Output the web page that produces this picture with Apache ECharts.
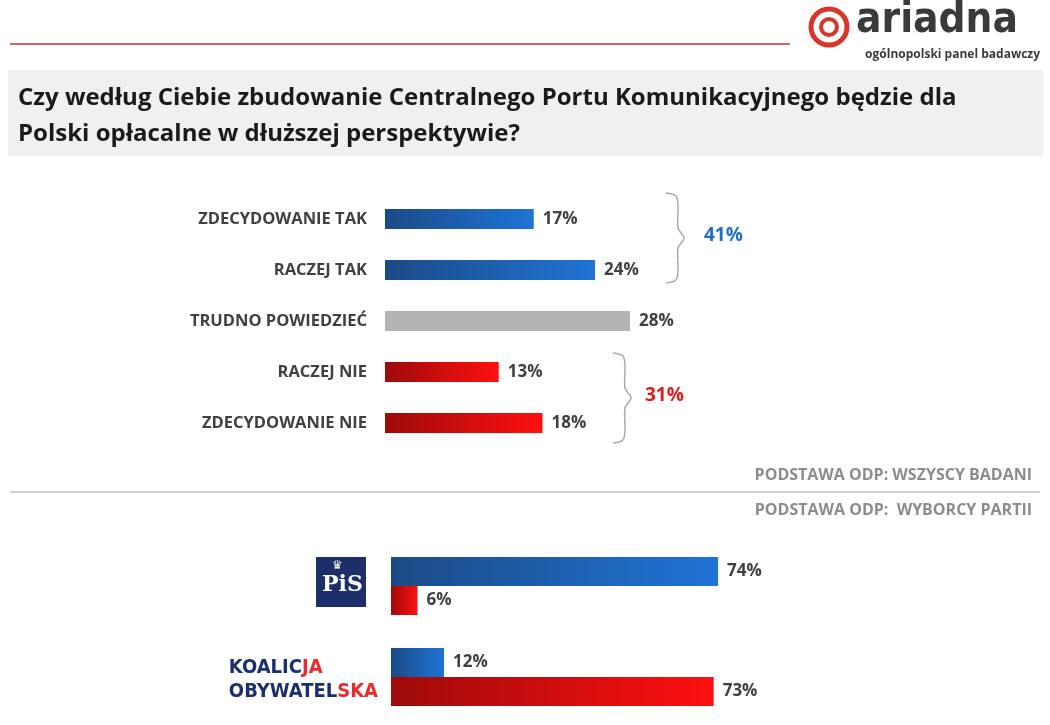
<!DOCTYPE html>
<html lang="pl">
<head>
<meta charset="utf-8">
<title>CPK</title>
<script src="https://cdn.jsdelivr.net/npm/echarts@6/dist/echarts.min.js"></script>
<style>body{margin:0;background:#fff}#main{width:1050px;height:725px}</style>
</head>
<body>
<div id="main"></div>
<script>
// dane: wszyscy badani
var answers = ['ZDECYDOWANIE TAK', 'RACZEJ TAK', 'TRUDNO POWIEDZIEĆ', 'RACZEJ NIE', 'ZDECYDOWANIE NIE'];
var answerValues = [17, 24, 28, 13, 18];
var answerGroups = ['yes', 'yes', 'neutral', 'no', 'no'];
var sumYes = 41;
var sumNo = 31;
// dane: wyborcy partii
var parties = ['PiS', 'KO'];
var partyYes = [74, 12];
var partyNo = [6, 73];

var myChart = echarts.init(document.getElementById('main'));

function grad(c1, c2) {
  return new echarts.graphic.LinearGradient(0, 0, 1, 0, [{offset: 0, color: c1}, {offset: 1, color: c2}]);
}
var blue = grad('#1b4a86', '#1f74d6');
var red = grad('#9e0a0a', '#ff1010');
var grey = '#b3b3b3';
var colorOf = {yes: blue, no: red, neutral: grey};

var lbl = {show: true, position: 'right', distance: 9, fontWeight: 'bold', fontSize: 17, color: '#404040',
           fontFamily: 'Open Sans', formatter: '{c}%'};

var option = {
  animation: false,
  grid: [
    {left: 385, top: 193.5, width: 350, height: 255},
    {left: 391, top: 540.5, width: 442, height: 182}
  ],
  xAxis: [
    {gridIndex: 0, type: 'value', min: 0, max: 40, show: false},
    {gridIndex: 1, type: 'value', min: 0, max: 100, show: false}
  ],
  yAxis: [
    {gridIndex: 0, type: 'category', data: answers, inverse: true,
     axisLine: {show: false}, axisTick: {show: false},
     axisLabel: {margin: 18, fontWeight: 'bold', fontSize: 16.5, color: '#404040', fontFamily: 'Open Sans'}},
    {gridIndex: 1, type: 'category', data: parties, inverse: true,
     axisLine: {show: false}, axisTick: {show: false}, axisLabel: {show: false}}
  ],
  series: [
    {type: 'bar', xAxisIndex: 0, yAxisIndex: 0, barWidth: 20, label: lbl,
     data: answerValues.map(function (v, i) { return {value: v, itemStyle: {color: colorOf[answerGroups[i]]}}; })},
    {type: 'bar', xAxisIndex: 1, yAxisIndex: 1, barWidth: 29, barGap: '0%', label: lbl,
     itemStyle: {color: blue}, data: partyYes},
    {type: 'bar', xAxisIndex: 1, yAxisIndex: 1, barWidth: 29, barGap: '0%', label: lbl,
     itemStyle: {color: red}, data: partyNo}
  ],
  graphic: [
    // nagłówek
    {type: 'line', shape: {x1: 10, y1: 44, x2: 790, y2: 44}, style: {stroke: '#c0302a', lineWidth: 1.5}},
    {type: 'circle', shape: {cx: 829, cy: 27, r: 18}, style: {fill: 'none', stroke: '#d9362b', lineWidth: 5}},
    {type: 'circle', shape: {cx: 829, cy: 27, r: 8}, style: {fill: 'none', stroke: '#d9362b', lineWidth: 4}},
    {type: 'text', left: 856, top: 0, style: {text: 'ariadna', font: 'bold 42px "DejaVu Sans Condensed"', fill: '#3a3a3a'}},
    {type: 'text', right: 10, top: 49, style: {text: 'ogólnopolski panel badawczy', font: 'bold 12px "Open Sans"', fill: '#3a3a3a'}},
    {type: 'rect', shape: {x: 8, y: 70, width: 1035, height: 86}, style: {fill: '#f0f0f0'}},
    {type: 'text', left: 18, top: 80, style: {text: 'Czy według Ciebie zbudowanie Centralnego Portu Komunikacyjnego będzie dla\nPolski opłacalne w dłuższej perspektywie?',
      font: 'bold 24px "Open Sans"', fill: '#1a1a1a', lineHeight: 36}},
    // klamry
    {type: 'polyline', shape: {points: [[666, 193], [676, 196], [678, 206], [678, 228], [684, 238], [678, 248], [678, 270], [676, 280], [666, 283]], smooth: 0.3},
     style: {fill: 'none', stroke: '#aaaaaa', lineWidth: 1.5}},
    {type: 'text', left: 704, top: 226, style: {text: sumYes + '%', font: 'bold 19px "Open Sans"', fill: '#1f6fc6'}},
    {type: 'polyline', shape: {points: [[613, 353], [623, 356], [625, 366], [625, 388], [631, 398], [625, 408], [625, 430], [623, 440], [613, 443]], smooth: 0.3},
     style: {fill: 'none', stroke: '#aaaaaa', lineWidth: 1.5}},
    {type: 'text', left: 645, top: 386, style: {text: sumNo + '%', font: 'bold 19px "Open Sans"', fill: '#e41b1b'}},
    // podstawy
    {type: 'text', right: 18, top: 467, style: {text: 'PODSTAWA ODP: WSZYSCY BADANI', font: 'bold 16px "Open Sans"', fill: '#8c8c8c'}},
    {type: 'line', shape: {x1: 10, y1: 492, x2: 1040, y2: 492}, style: {stroke: '#bfbfbf', lineWidth: 1.5}},
    {type: 'text', right: 18, top: 502, style: {text: 'PODSTAWA ODP:  WYBORCY PARTII', font: 'bold 16px "Open Sans"', fill: '#8c8c8c'}},
    // logotypy partii
    {type: 'rect', shape: {x: 316, y: 557, width: 50, height: 50}, style: {fill: '#1c2f6b'}},
    {type: 'text', left: 322, top: 574, style: {text: 'PiS', font: 'bold 22px "DejaVu Serif"', fill: '#ffffff'}},
    {type: 'text', left: 332, top: 560, style: {text: '♛', font: '12px "DejaVu Sans"', fill: '#ffffff'}},
    {type: 'text', right: 1050 - 378, top: 656, style: {text: '{b|KOALIC}{r|JA}\n{b|OBYWATEL}{r|SKA}', align: 'right', lineHeight: 24,
      rich: {b: {font: 'bold 20px "DejaVu Sans Condensed"', fill: '#1b2f6e', lineHeight: 24},
             r: {font: 'bold 20px "DejaVu Sans Condensed"', fill: '#e52d2d', lineHeight: 24}}}}
  ]
};
myChart.setOption(option);
</script>
</body>
</html>
